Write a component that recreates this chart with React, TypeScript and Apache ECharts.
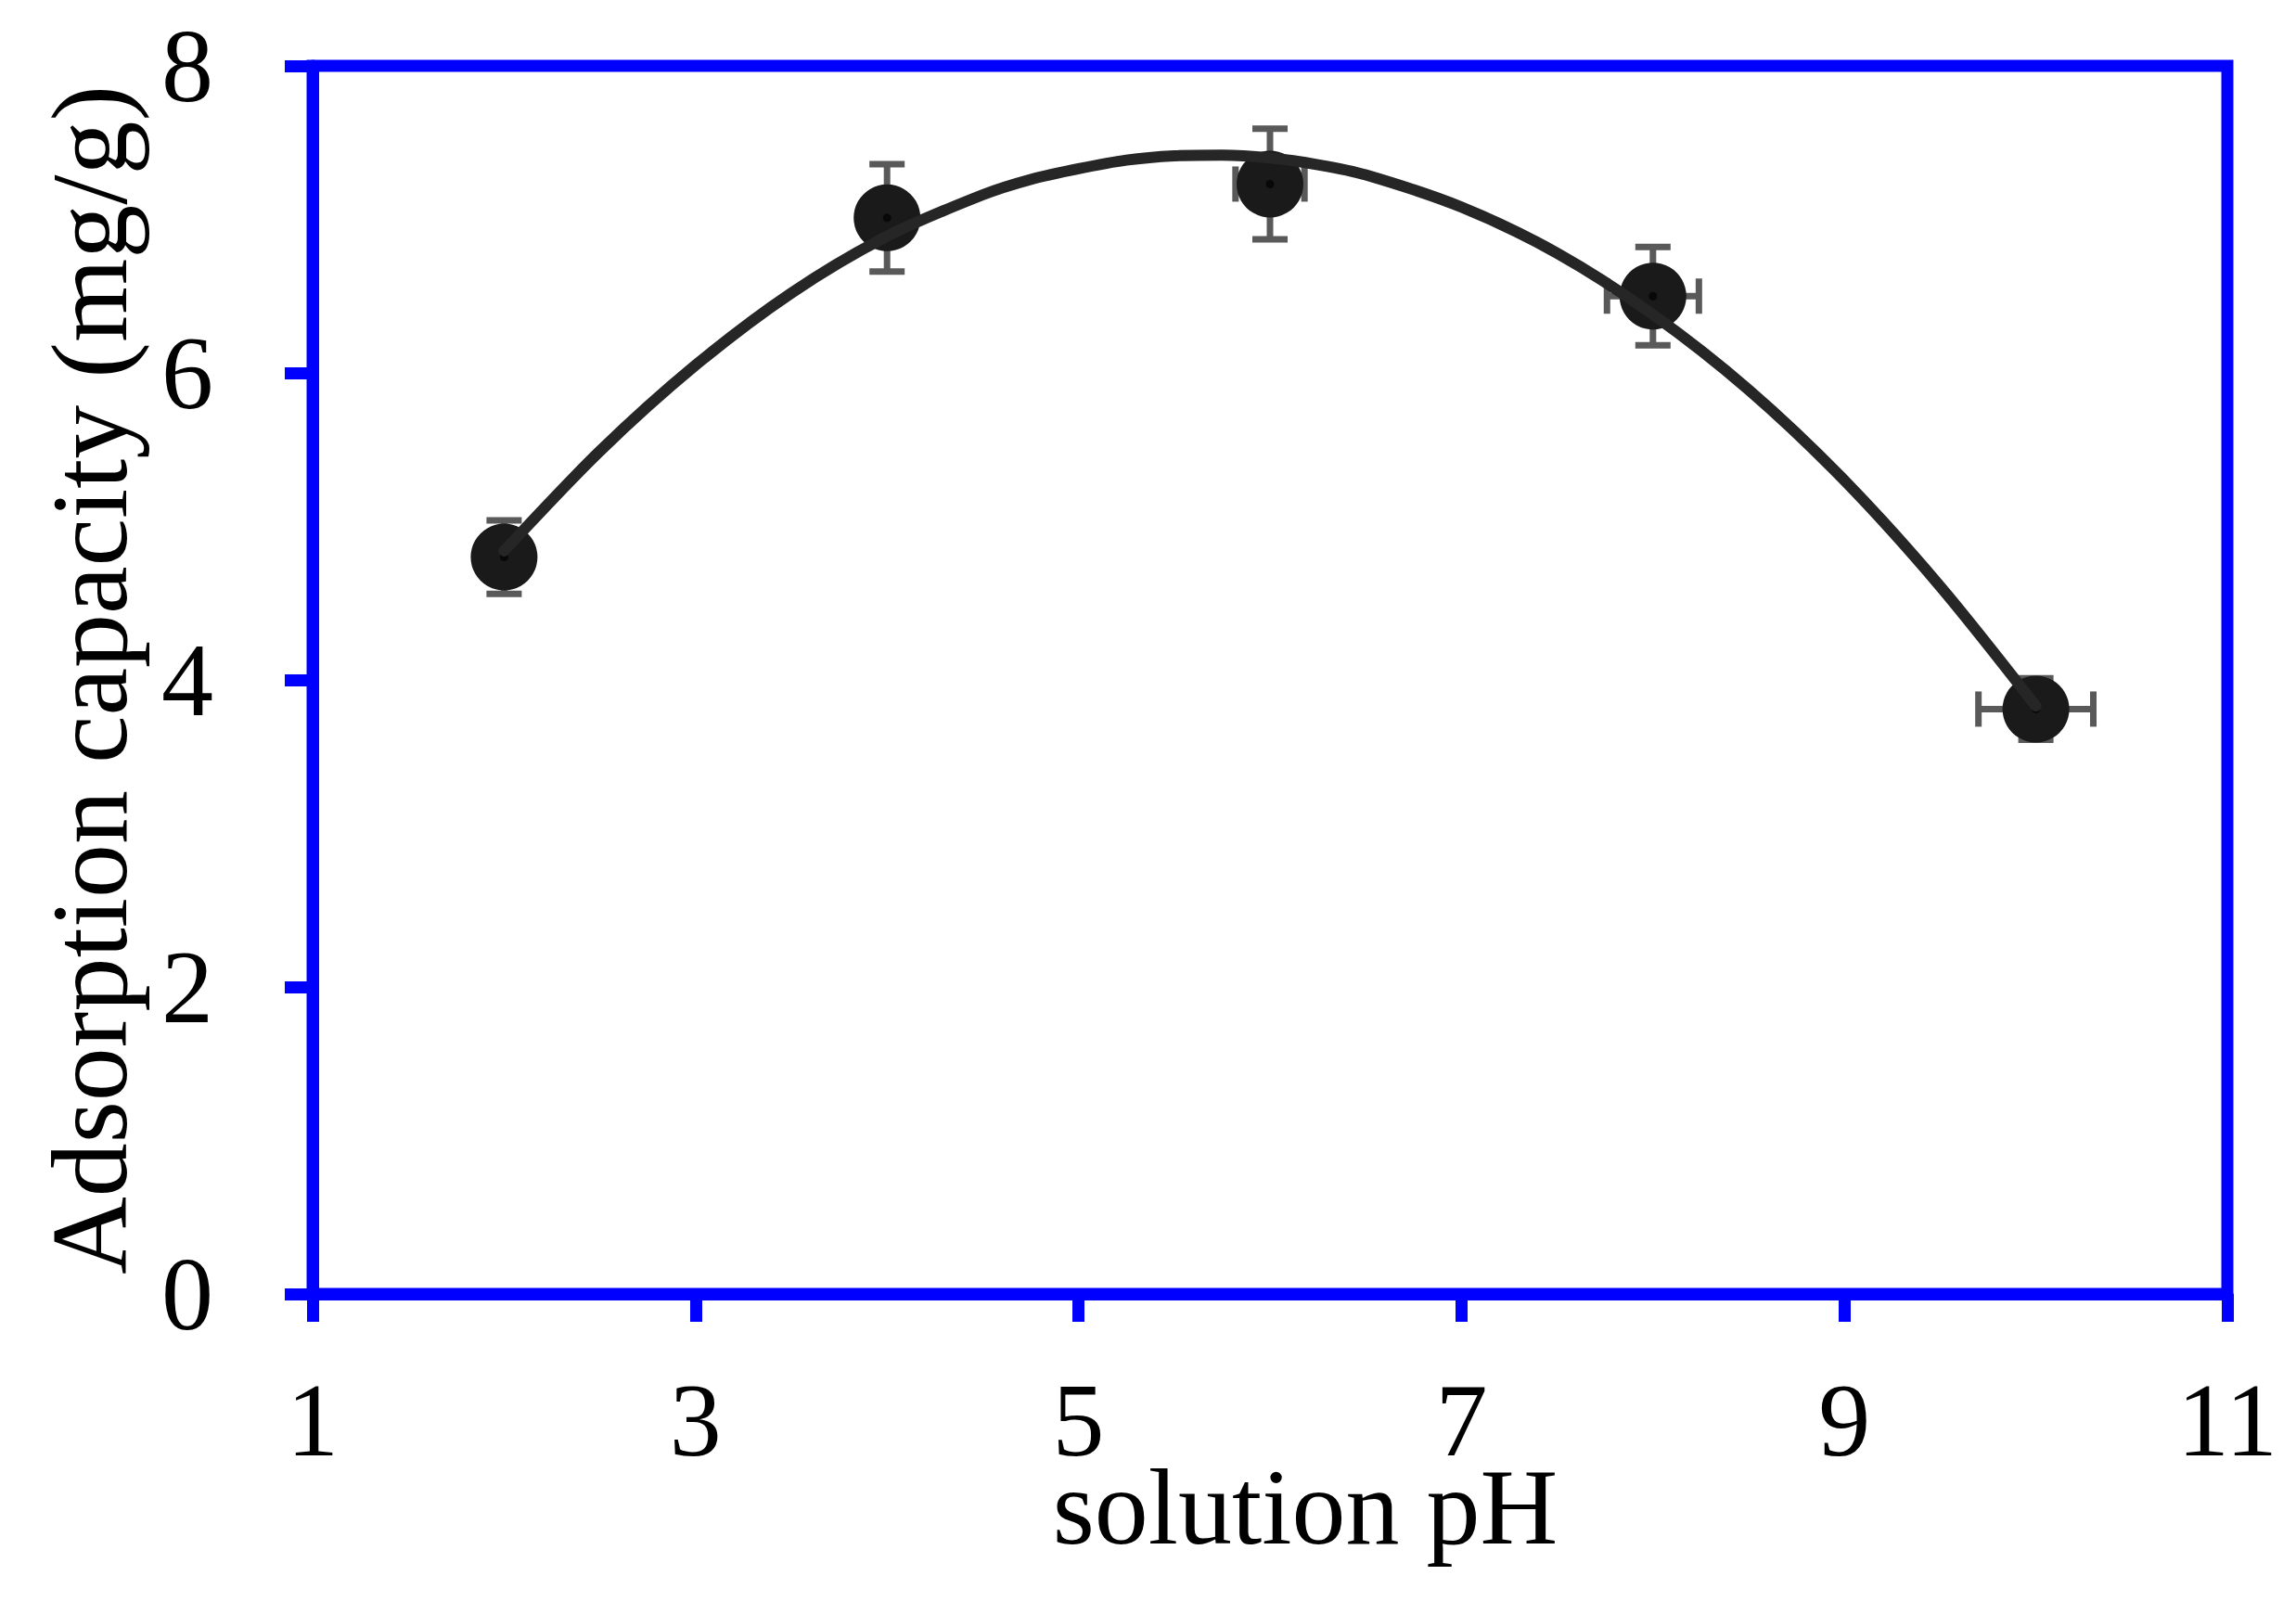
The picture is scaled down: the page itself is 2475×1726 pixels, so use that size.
import React, { useEffect, useRef } from "react";
import * as echarts from "echarts";

// Measured points: pH, adsorption capacity, y error, x error
const phValues = [2, 4, 6, 8, 10];
const capacity = [4.8, 7.01, 7.23, 6.5, 3.81];
const capacityErr = [0.24, 0.35, 0.36, 0.32, 0.2];
const phErr = [0, 0, 0.18, 0.24, 0.3];

// Fitted trend curve
const curveX = [2, 2.5, 3, 3.5, 4, 4.5, 4.75, 5, 5.25, 5.5, 5.75, 6, 6.25, 6.5, 7, 7.5, 8, 8.5, 9, 9.5, 10];
const curveY = [4.84, 5.49, 6.05, 6.52, 6.89, 7.16, 7.26, 7.33, 7.386, 7.414, 7.419, 7.4, 7.356, 7.29, 7.08, 6.78, 6.38, 5.89, 5.3, 4.61, 3.83];

const xTicks = [1, 3, 5, 7, 9, 11];
const yTicks = [0, 2, 4, 6, 8];

const FONT = "'Liberation Serif', 'Times New Roman', serif";
const BLUE = "#0000ff";

export default function App() {
  const ref = useRef<HTMLDivElement>(null);

  useEffect(() => {
    if (!ref.current) return;
    const chart = echarts.init(ref.current, undefined, { renderer: "svg" });

    const errData = phValues.map((x, i) => [x, capacity[i], capacityErr[i], phErr[i]]);
    const pointData = phValues.map((x, i) => [x, capacity[i]]);
    const curveData = curveX.map((x, i) => [x, curveY[i]]);

    const option: any = {
      animation: false,
      backgroundColor: "#ffffff",
      grid: {
        left: 337,
        right: 74,
        top: 71,
        bottom: 331,
        show: true,
        borderColor: BLUE,
        borderWidth: 13,
        backgroundColor: "transparent",
      },
      xAxis: {
        type: "value",
        min: xTicks[0],
        max: xTicks[xTicks.length - 1],
        interval: 2,
        name: "solution pH",
        nameLocation: "middle",
        nameGap: 185,
        nameMoveOverlap: false,
        nameTextStyle: {
          fontFamily: FONT,
          fontSize: 116,
          lineHeight: 90,
          color: "#000",
          padding: [0, 0, 0, 76],
        },
        axisLine: { show: true, onZero: false, lineStyle: { color: BLUE, width: 13 } },
        axisTick: { show: true, inside: false, length: 30, lineStyle: { color: BLUE, width: 13 } },
        axisLabel: {
          show: true,
          margin: 91,
          fontFamily: FONT,
          fontSize: 112,
          lineHeight: 90,
          color: "#000",
        },
        splitLine: { show: false },
      },
      yAxis: {
        type: "value",
        min: yTicks[0],
        max: yTicks[yTicks.length - 1],
        interval: 2,
        name: "Adsorption capacity (mg/g)",
        nameLocation: "middle",
        nameGap: 182,
        nameMoveOverlap: false,
        nameTextStyle: {
          fontFamily: FONT,
          fontSize: 116,
          color: "#000",
        },
        axisLine: { show: true, onZero: false, lineStyle: { color: BLUE, width: 13 } },
        axisTick: { show: true, inside: false, length: 30, lineStyle: { color: BLUE, width: 13 } },
        axisLabel: {
          show: true,
          margin: 107,
          fontFamily: FONT,
          fontSize: 112,
          color: "#000",
        },
        splitLine: { show: false },
      },
      series: [
        {
          type: "custom",
          z: 1,
          data: errData,
          renderItem: (params: any, api: any) => {
            const x = api.value(0);
            const y = api.value(1);
            const ey = api.value(2);
            const ex = api.value(3);
            const c = api.coord([x, y]);
            const top = api.coord([x, y + ey]);
            const bot = api.coord([x, y - ey]);
            const left = api.coord([x - ex, y]);
            const right = api.coord([x + ex, y]);
            const cap = 19;
            const style = { stroke: "#595959", lineWidth: 7, fill: "none" };
            const children: any[] = [];
            if (ey > 0) {
              children.push(
                { type: "line", shape: { x1: c[0], y1: top[1], x2: c[0], y2: bot[1] }, style },
                { type: "line", shape: { x1: c[0] - cap, y1: top[1], x2: c[0] + cap, y2: top[1] }, style },
                { type: "line", shape: { x1: c[0] - cap, y1: bot[1], x2: c[0] + cap, y2: bot[1] }, style }
              );
            }
            if (ex > 0) {
              children.push(
                { type: "line", shape: { x1: left[0], y1: c[1], x2: right[0], y2: c[1] }, style },
                { type: "line", shape: { x1: left[0], y1: c[1] - cap, x2: left[0], y2: c[1] + cap }, style },
                { type: "line", shape: { x1: right[0], y1: c[1] - cap, x2: right[0], y2: c[1] + cap }, style }
              );
            }
            return { type: "group", children };
          },
        },
        {
          type: "scatter",
          z: 2,
          data: pointData,
          symbol: "circle",
          symbolSize: 72,
          itemStyle: { color: "#1a1a1a", opacity: 1 },
        },
        {
          type: "scatter",
          z: 3,
          data: pointData,
          symbol: "circle",
          symbolSize: 9,
          itemStyle: { color: "#080808", opacity: 1 },
        },
        {
          type: "line",
          z: 4,
          data: curveData,
          smooth: 0.3,
          showSymbol: false,
          symbol: "none",
          lineStyle: { color: "#262626", width: 12, cap: "round", join: "round" },
        },
      ],
    };

    chart.setOption(option);
    return () => chart.dispose();
  }, []);

  return (
    <div
      ref={ref}
      style={{ position: "fixed", left: 0, top: 0, width: 2475, height: 1726, background: "#fff" }}
    />
  );
}
